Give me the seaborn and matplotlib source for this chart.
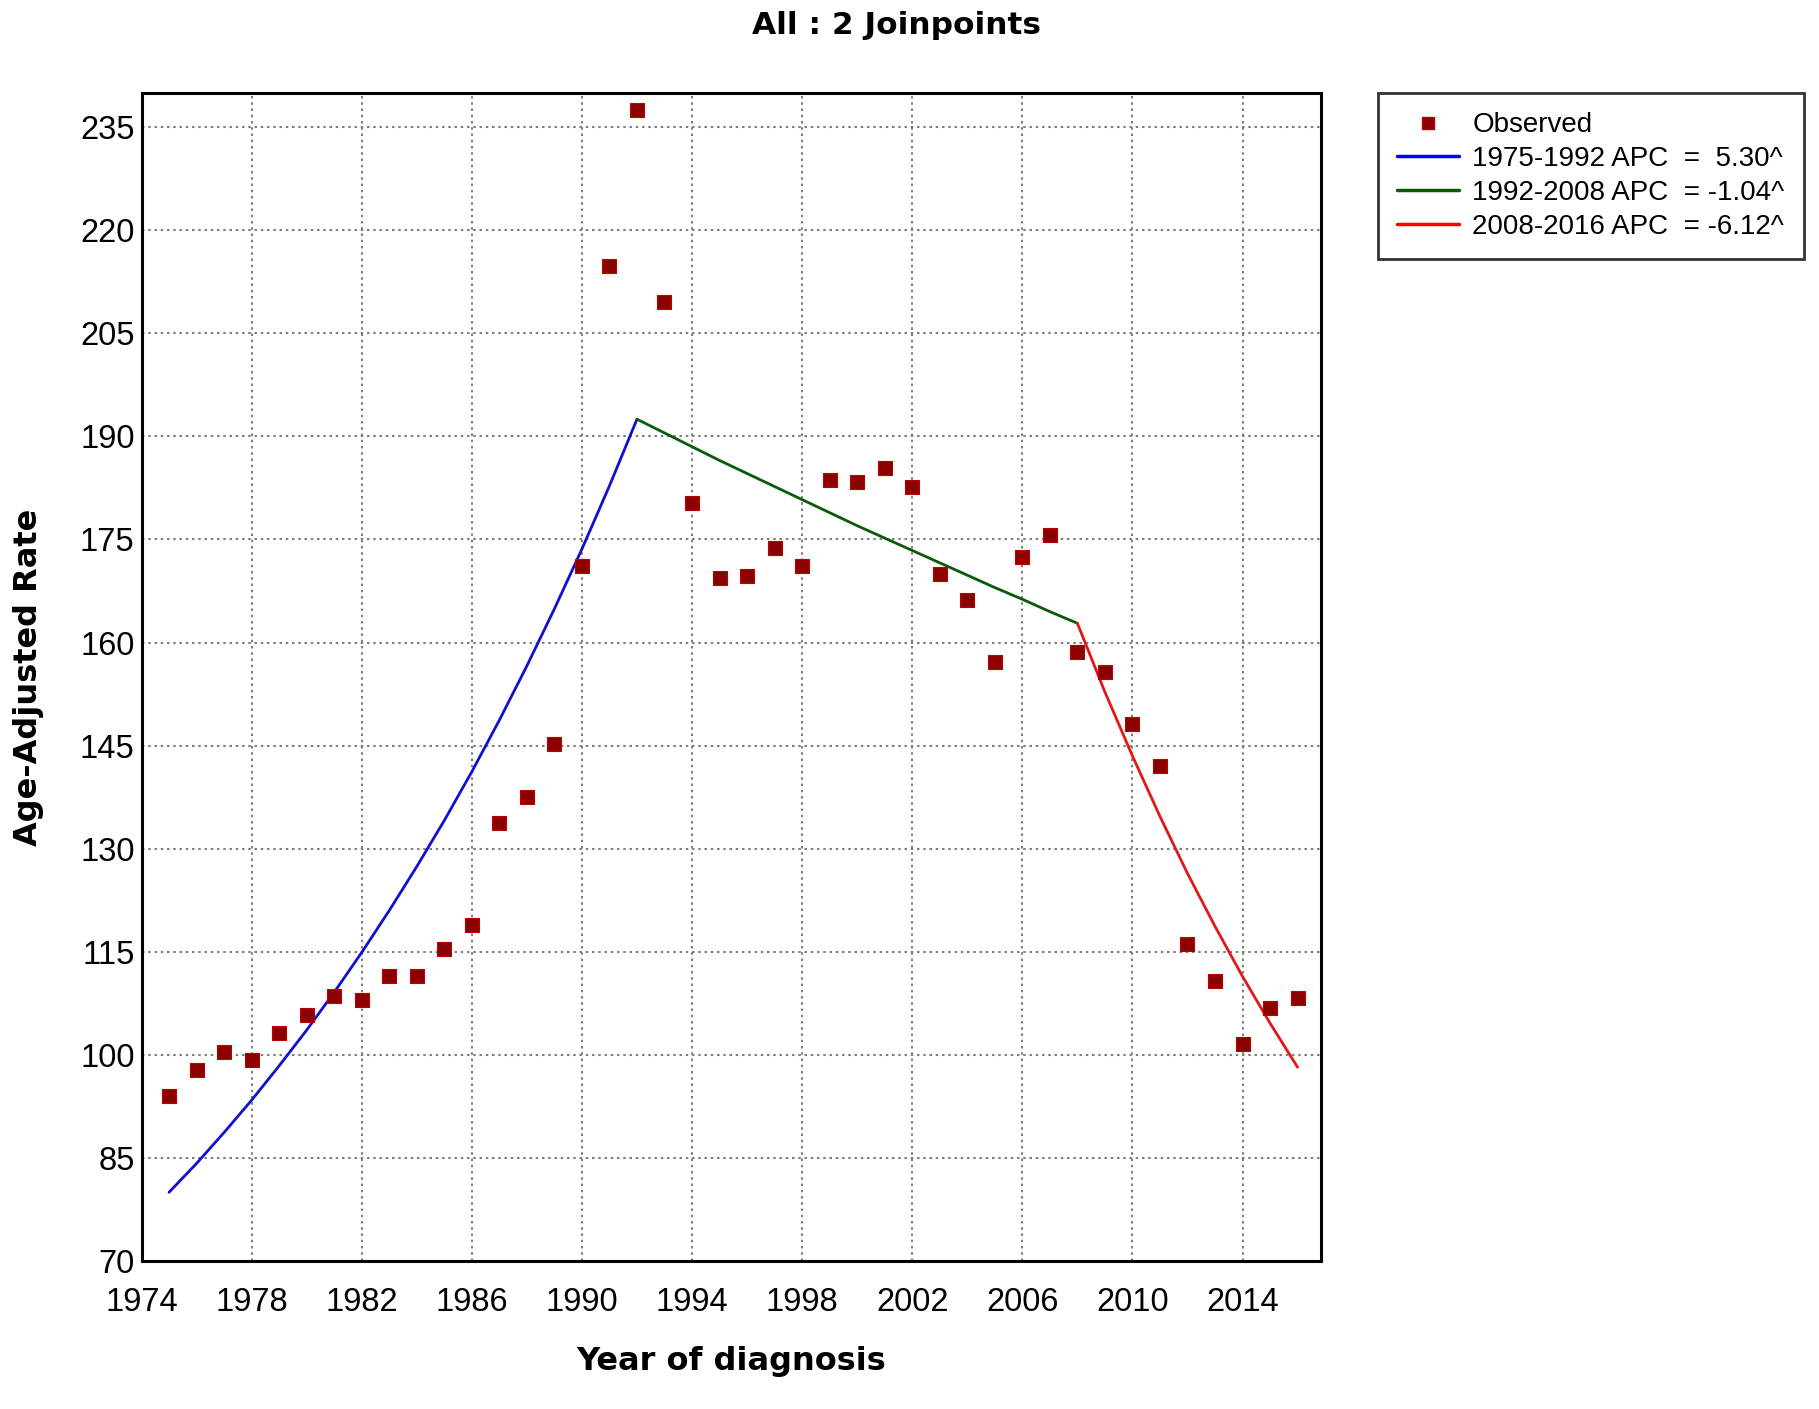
import matplotlib
matplotlib.use("Agg")
import matplotlib.pyplot as plt
from matplotlib.lines import Line2D
import seaborn as sns
import pandas as pd

# ---- data ----
years = list(range(1975, 2017))
observed = [94.0, 97.8, 100.4, 99.2, 103.2, 105.8, 108.6, 108.0, 111.5, 111.5,
            115.4, 118.9, 133.8, 137.5, 145.2, 171.1, 214.8, 237.5, 209.5, 180.3,
            169.4, 169.7, 173.8, 171.2, 183.7, 183.4, 185.4, 182.7, 170.0, 166.2,
            157.1, 172.4, 175.6, 158.6, 155.7, 148.1, 142.0, 116.1, 110.8, 101.6,
            106.8, 108.3]

seg1_years = list(range(1975, 1993))
seg1_fit = [80.0, 84.2, 88.7, 93.4, 98.4, 103.6, 109.1, 114.9, 121.0, 127.4,
            134.1, 141.2, 148.7, 156.6, 164.9, 173.6, 182.8, 192.5]
seg2_years = list(range(1992, 2009))
seg2_fit = [192.5, 190.5, 188.5, 186.5, 184.6, 182.7, 180.8, 178.9, 177.0, 175.2,
            173.4, 171.6, 169.8, 168.0, 166.3, 164.5, 162.8]
seg3_years = list(range(2008, 2017))
seg3_fit = [162.8, 152.8, 143.5, 134.7, 126.4, 118.7, 111.4, 104.6, 98.2]

legend_labels = ["Observed",
                 "1975-1992 APC  =  5.30^",
                 "1992-2008 APC  = -1.04^",
                 "2008-2016 APC  = -6.12^"]
x_ticks = list(range(1974, 2015, 4))
y_ticks = list(range(70, 236, 15))

title = "All : 2 Joinpoints"
xlabel = "Year of diagnosis"
ylabel = "Age-Adjusted Rate"

# ---- plot ----
sns.set_theme(style="white")
plt.rcParams['font.family'] = ['Liberation Sans', 'DejaVu Sans']
plt.rcParams['text.color'] = 'black'
plt.rcParams['axes.labelcolor'] = 'black'

fig = plt.figure(figsize=(18.19, 14.09), dpi=100)
ax = fig.add_axes([141.5/1819, 1 - 1261/1409, (1321 - 141.5)/1819, (1261 - 92.8)/1409])

c_blue = "#1010d0"
c_green = "#0a5a0a"
c_red = "#e01818"
c_obs = "#8b0000"

df_obs = pd.DataFrame({"year": years, "rate": observed})
sns.lineplot(x=seg1_years, y=seg1_fit, ax=ax, color=c_blue, lw=2.0)
sns.lineplot(x=seg2_years, y=seg2_fit, ax=ax, color=c_green, lw=2.0)
sns.lineplot(x=seg3_years, y=seg3_fit, ax=ax, color=c_red, lw=2.0)
sns.scatterplot(data=df_obs, x="year", y="rate", ax=ax, marker="s", s=115,
                color=c_obs, edgecolor="#c00000", linewidth=0.8, zorder=5)

ax.set_xlim(1974, 2016.85)
ax.set_ylim(70, 240)
ax.set_xticks(x_ticks)
ax.set_yticks(y_ticks)
ax.tick_params(axis="x", length=0, labelsize=23.5, colors="black", pad=19)
ax.tick_params(axis="y", length=0, labelsize=23.5, colors="black", pad=5)
ax.grid(True, color="#808080", linestyle=(0, (1.2, 1.8)), linewidth=1.5)
for sp in ax.spines.values():
    sp.set_visible(True)
    sp.set_color("black")
    sp.set_linewidth(2.2)

ax.set_xlabel(xlabel, fontsize=23, fontweight="bold", family="DejaVu Sans",
              labelpad=20, color="black")
ax.set_ylabel(ylabel, fontsize=23, fontweight="bold", family="DejaVu Sans",
              labelpad=26, color="black")

fig.text(0.493, 1 - 26/1409, title, ha="center", va="center",
         fontsize=22.5, fontweight="bold", family="DejaVu Sans", color="black")

handles = [
    Line2D([], [], marker="s", color=c_obs, linestyle="none", markersize=8,
           markeredgecolor="#c00000"),
    Line2D([], [], color="#0000ff", lw=2.5),
    Line2D([], [], color=c_green, lw=2.5),
    Line2D([], [], color="#ff0000", lw=2.5),
]
leg = fig.legend(handles, legend_labels, loc="upper left",
                 bbox_to_anchor=(1378/1819, 1 - 93/1409), fontsize=20,
                 frameon=True, fancybox=False, handlelength=2.2,
                 labelspacing=0.28, borderpad=0.7, handletextpad=0.5,
                 borderaxespad=0)
leg.get_frame().set_edgecolor("black")
leg.get_frame().set_linewidth(2)
for t in leg.get_texts():
    t.set_color("black")

fig.savefig("out.png", dpi=100)
